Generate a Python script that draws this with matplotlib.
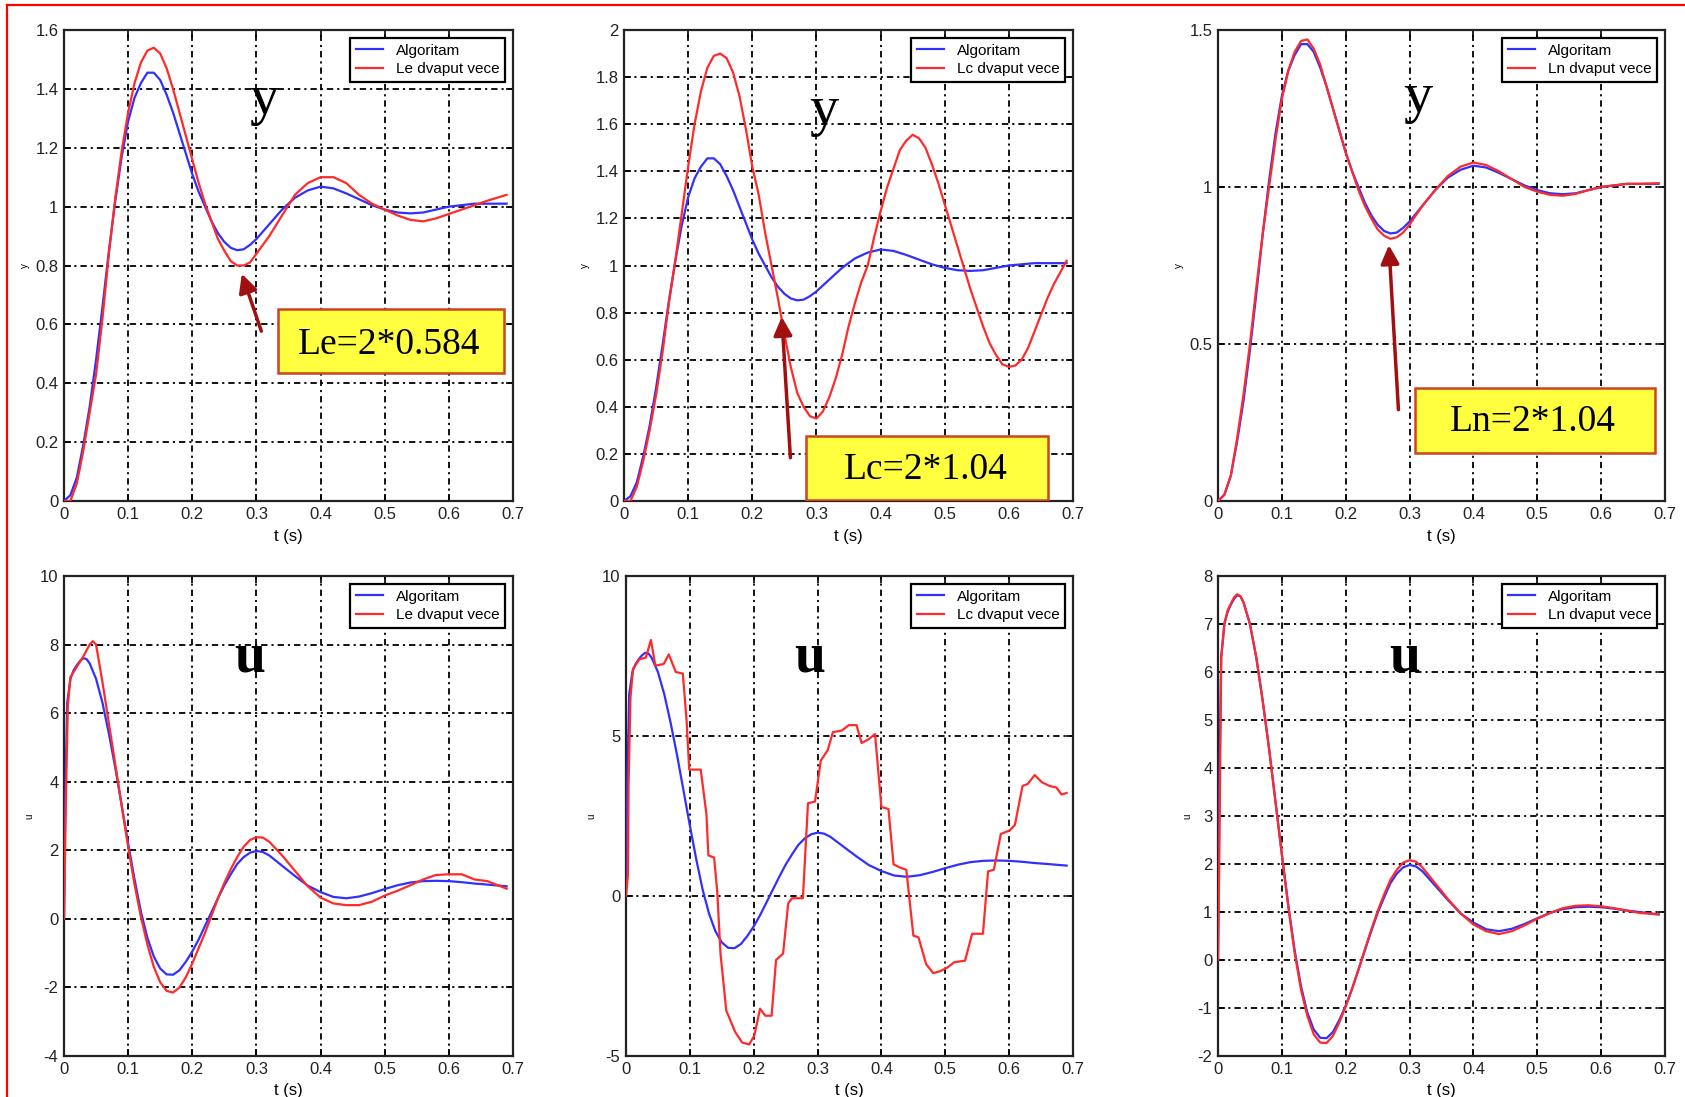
import numpy as np
import matplotlib
matplotlib.use("Agg")
import matplotlib.pyplot as plt
from matplotlib.lines import Line2D
from matplotlib.patches import Rectangle
from matplotlib.ticker import FormatStrFormatter

# --- data ---
# output y of the algorithm (blue), same in the three top panels
t_y = [0, 0.01, 0.02, 0.03, 0.04, 0.05, 0.06, 0.07, 0.08, 0.09, 0.1, 0.11, 0.12, 0.13, 0.14,
       0.15, 0.16, 0.17, 0.18, 0.19, 0.2, 0.21, 0.22, 0.23, 0.24, 0.25, 0.26, 0.27, 0.28, 0.29,
       0.3, 0.32, 0.34, 0.36, 0.38, 0.4, 0.42, 0.44, 0.46, 0.48, 0.5, 0.52, 0.54, 0.56, 0.58,
       0.6, 0.62, 0.64, 0.66, 0.69]
y_alg = [0, 0.02, 0.08, 0.19, 0.32, 0.48, 0.66, 0.85, 1.02, 1.17, 1.29, 1.37, 1.42, 1.455, 1.455,
         1.43, 1.38, 1.32, 1.25, 1.18, 1.11, 1.05, 1.0, 0.95, 0.91, 0.88, 0.86, 0.852, 0.855, 0.87,
         0.89, 0.94, 0.99, 1.03, 1.055, 1.068, 1.062, 1.045, 1.025, 1.005, 0.99, 0.98, 0.977, 0.98, 0.99,
         1.0, 1.005, 1.01, 1.01, 1.01]
y_le = [0, 0.0, 0.06, 0.17, 0.3, 0.43, 0.62, 0.84, 1.03, 1.19, 1.32, 1.42, 1.49, 1.53, 1.54,
        1.52, 1.47, 1.4, 1.32, 1.24, 1.16, 1.08, 1.01, 0.95, 0.89, 0.85, 0.815, 0.8, 0.8, 0.81,
        0.84, 0.9, 0.97, 1.04, 1.08, 1.1, 1.1, 1.08, 1.04, 1.01, 0.99, 0.97, 0.955, 0.95, 0.96,
        0.975, 0.99, 1.005, 1.02, 1.04]
y_ln = [0, 0.02, 0.08, 0.2, 0.34, 0.5, 0.68, 0.85, 1.0, 1.15, 1.28, 1.37, 1.43, 1.465, 1.47,
        1.44, 1.39, 1.32, 1.25, 1.18, 1.11, 1.05, 0.99, 0.94, 0.9, 0.865, 0.845, 0.835, 0.84, 0.855,
        0.88, 0.94, 0.99, 1.035, 1.065, 1.078, 1.07, 1.05, 1.025, 1.0, 0.985, 0.975, 0.972, 0.978, 0.99,
        1.0, 1.005, 1.01, 1.01, 1.012]

t_lc = [0, 0.01, 0.02, 0.03, 0.04, 0.05, 0.06, 0.07, 0.08, 0.09, 0.1, 0.11, 0.12, 0.13, 0.14, 0.15,
        0.16, 0.17, 0.18, 0.19, 0.2, 0.21, 0.22, 0.23, 0.24, 0.25, 0.26, 0.27, 0.28, 0.29, 0.3, 0.31,
        0.32, 0.33, 0.34, 0.35, 0.36, 0.37, 0.38, 0.39, 0.4, 0.41, 0.42, 0.43, 0.44, 0.45, 0.46, 0.47,
        0.48, 0.49, 0.5, 0.51, 0.52, 0.53, 0.54, 0.55, 0.56, 0.57, 0.58, 0.59, 0.6, 0.61, 0.62, 0.63,
        0.64, 0.65, 0.66, 0.67, 0.68, 0.69]
y_lc = [0, 0.0, 0.06, 0.17, 0.3, 0.45, 0.63, 0.84, 1.02, 1.22, 1.42, 1.6, 1.74, 1.84, 1.89, 1.9,
        1.88, 1.82, 1.72, 1.58, 1.42, 1.3, 1.14, 1.0, 0.86, 0.71, 0.57, 0.46, 0.4, 0.36, 0.35, 0.38,
        0.44, 0.52, 0.62, 0.74, 0.84, 0.93, 1.0, 1.12, 1.23, 1.33, 1.41, 1.49, 1.53, 1.555, 1.54, 1.5,
        1.43, 1.35, 1.26, 1.17, 1.08, 0.99, 0.9, 0.82, 0.74, 0.67, 0.62, 0.58, 0.57, 0.575, 0.6, 0.65,
        0.72, 0.79, 0.86, 0.92, 0.97, 1.02]

# control signal u
t_u = [0, 0.002, 0.005, 0.01, 0.015, 0.02, 0.025, 0.03, 0.035, 0.04, 0.05, 0.06, 0.07, 0.08, 0.09,
       0.1, 0.11, 0.12, 0.13, 0.14, 0.15, 0.16, 0.17, 0.18, 0.19, 0.2, 0.21, 0.22, 0.23, 0.24, 0.25,
       0.26, 0.27, 0.28, 0.29, 0.3, 0.31, 0.32, 0.34, 0.36, 0.38, 0.4, 0.42, 0.44, 0.46, 0.48, 0.5,
       0.52, 0.54, 0.56, 0.58, 0.6, 0.62, 0.64, 0.66, 0.69]
u_alg = [0, 3.5, 6.3, 7.0, 7.25, 7.4, 7.52, 7.6, 7.58, 7.45, 7.0, 6.3, 5.4, 4.4, 3.3,
         2.2, 1.15, 0.2, -0.55, -1.1, -1.45, -1.62, -1.63, -1.5, -1.25, -0.95, -0.6, -0.2, 0.2, 0.6, 0.98,
         1.3, 1.6, 1.8, 1.93, 1.98, 1.95, 1.85, 1.55, 1.25, 0.97, 0.78, 0.64, 0.6, 0.65, 0.75, 0.87,
         0.98, 1.06, 1.1, 1.11, 1.1, 1.07, 1.03, 1.0, 0.95]
u_ln = [0, 2.0, 6.3, 7.0, 7.28, 7.42, 7.55, 7.62, 7.58, 7.45, 7.0, 6.3, 5.4, 4.4, 3.3,
        2.2, 1.12, 0.15, -0.62, -1.17, -1.55, -1.72, -1.73, -1.58, -1.3, -0.97, -0.6, -0.2, 0.22, 0.63, 1.02,
        1.36, 1.67, 1.88, 2.03, 2.08, 2.05, 1.93, 1.6, 1.27, 0.97, 0.74, 0.6, 0.54, 0.6, 0.72, 0.86,
        0.98, 1.08, 1.13, 1.14, 1.12, 1.08, 1.03, 0.98, 0.95]

t_ule = [0, 0.003, 0.006, 0.01, 0.02, 0.03, 0.04, 0.045, 0.05, 0.06, 0.07, 0.08, 0.09, 0.1, 0.11,
         0.12, 0.13, 0.14, 0.15, 0.16, 0.17, 0.18, 0.19, 0.2, 0.21, 0.22, 0.23, 0.24, 0.25, 0.26,
         0.27, 0.28, 0.29, 0.3, 0.31, 0.32, 0.34, 0.36, 0.38, 0.4, 0.42, 0.44, 0.46, 0.48, 0.5,
         0.52, 0.54, 0.56, 0.58, 0.6, 0.62, 0.64, 0.66, 0.69]
u_le = [0, 3.5, 6.2, 7.05, 7.35, 7.65, 8.0, 8.1, 8.0, 6.9, 5.7, 4.5, 3.3, 2.1, 1.0,
        0.05, -0.75, -1.4, -1.85, -2.1, -2.15, -2.0, -1.7, -1.3, -0.85, -0.4, 0.1, 0.6, 1.05, 1.45,
        1.8, 2.1, 2.3, 2.38, 2.37, 2.25, 1.85, 1.4, 0.95, 0.62, 0.45, 0.4, 0.4, 0.5, 0.68,
        0.82, 0.98, 1.15, 1.28, 1.3, 1.3, 1.15, 1.1, 0.88]

t_ulc = [0, 0.003, 0.004, 0.007, 0.011, 0.021, 0.031, 0.039, 0.046, 0.059, 0.067, 0.078, 0.089,
         0.095, 0.099, 0.117, 0.126, 0.129, 0.138, 0.143, 0.148, 0.157, 0.171, 0.182, 0.193, 0.201,
         0.21, 0.218, 0.228, 0.235, 0.246, 0.254, 0.26, 0.277, 0.285, 0.296, 0.305, 0.316, 0.324,
         0.338, 0.349, 0.361, 0.369, 0.38, 0.39, 0.4, 0.411, 0.419, 0.43, 0.439, 0.45, 0.458, 0.47,
         0.481, 0.492, 0.503, 0.514, 0.531, 0.542, 0.559, 0.567, 0.576, 0.587, 0.601, 0.609, 0.621,
         0.629, 0.64, 0.651, 0.663, 0.674, 0.682, 0.69]
u_lc = [0, 0.65, 3.45, 6.2, 7.1, 7.4, 7.45, 8.0, 7.2, 7.25, 7.55, 7.0, 6.95,
        5.45, 3.95, 3.95, 2.55, 1.27, 1.2, 0.1, -1.8, -3.58, -4.25, -4.58, -4.64, -4.36,
        -3.52, -3.74, -3.74, -2.0, -1.8, -0.23, -0.07, -0.07, 2.9, 2.95, 4.23, 4.56, 5.12,
        5.17, 5.34, 5.34, 4.78, 4.9, 5.06, 2.78, 2.72, 0.99, 0.88, 0.82, -1.24, -1.29, -2.13,
        -2.41, -2.35, -2.24, -2.07, -2.02, -1.18, -1.18, 0.77, 0.82, 1.94, 2.05, 2.22, 3.44,
        3.5, 3.78, 3.56, 3.44, 3.39, 3.17, 3.22]

red_labels = ["Le dvaput vece", "Lc dvaput vece", "Ln dvaput vece"]
box_texts = ["Le=2*0.584", "Lc=2*1.04", "Ln=2*1.04"]

plt.rcParams['font.family'] = 'Liberation Sans'

fig = plt.figure(figsize=(16.85, 10.97), dpi=100)

W, H = 1685, 1097
top_rect = [(64, 513), (624, 1073), (1218, 1665)]
bot_rect = [(64, 513), (626, 1073), (1218, 1665)]

def make_ax(xr, yr):
    return fig.add_axes([xr[0] / W, 1 - yr[1] / H, (xr[1] - xr[0]) / W, (yr[1] - yr[0]) / H])

def style(ax, ylim, yticks, ylab):
    ax.set_xlim(0, 0.7)
    ax.set_ylim(*ylim)
    ax.set_xticks(np.arange(0, 0.71, 0.1))
    ax.set_yticks(yticks)
    ax.xaxis.set_major_formatter(FormatStrFormatter('%g'))
    ax.yaxis.set_major_formatter(FormatStrFormatter('%g'))
    ax.tick_params(direction='in', top=True, right=True, length=5, width=1.2,
                   labelsize=12, pad=4, labelcolor='#222222')
    ax.grid(True, color='black', linestyle=(0, (3.5, 2.2, 1.2, 2.2)), linewidth=1.3)
    for s in ax.spines.values():
        s.set_linewidth(1.6)
        s.set_color('#222222')
    ax.set_xlabel('t (s)', fontsize=12, labelpad=5)
    ax.set_ylabel(ylab, fontsize=7, labelpad=4)

def add_legend(ax, red_label):
    ax.legend(loc='upper right', fontsize=11, frameon=True, fancybox=False,
              edgecolor='black', framealpha=1, handlelength=1.8, borderpad=0.4,
              labelspacing=0.3, handletextpad=0.8).get_frame().set_linewidth(1.6)

blue = '#3030ff'
red = '#ff2a2a'

# ---- top row: y ----
y_reds = [(t_y, y_le), (t_lc, y_lc), (t_y, y_ln)]
y_lims = [(0, 1.6), (0, 2), (0, 1.5)]
y_ticks = [np.arange(0, 1.61, 0.2), np.arange(0, 2.01, 0.2), [0, 0.5, 1, 1.5]]
ylet_pos = [(0.4455, 0.852), (0.446, 0.829), (0.448, 0.856)]
box_rects = [(0.477, 0.272, 0.502, 0.136), (0.406, 0.002, 0.538, 0.135), (0.44, 0.101, 0.538, 0.138)]
box_txt_pos = [(0.724, 0.332), (0.673, 0.066), (0.705, 0.168)]
arrows = [((0.394, 0.488), (0.4415, 0.355)), ((0.351, 0.397), (0.371, 0.086)),
          ((0.382, 0.549), (0.404, 0.188))]

for i in range(3):
    ax = make_ax(top_rect[i], (30, 501))
    ax.plot(t_y, y_alg, color=blue, lw=1.6, label='Algoritam', zorder=3)
    ax.plot(y_reds[i][0], y_reds[i][1], color=red, lw=1.6, label=red_labels[i], zorder=3)
    style(ax, y_lims[i], y_ticks[i], 'y')
    add_legend(ax, red_labels[i])
    ax.text(*ylet_pos[i], 'y', transform=ax.transAxes, ha='center', va='center',
            fontsize=42, family='Liberation Serif', zorder=5)
    bx, by, bw, bh = box_rects[i]
    ax.add_patch(Rectangle((bx, by), bw, bh, transform=ax.transAxes, facecolor='#ffff40',
                           edgecolor='#cc4422', lw=1.8, zorder=6))
    ax.text(*box_txt_pos[i], box_texts[i], transform=ax.transAxes, ha='center', va='center',
            fontsize=27, family='Liberation Serif', zorder=7)
    head, tail = arrows[i]
    ax.annotate('', xy=head, xytext=tail, xycoords='axes fraction', textcoords='axes fraction',
                arrowprops=dict(arrowstyle='-|>', color='#a01010', lw=2.5, mutation_scale=28),
                zorder=6)

# ---- bottom row: u ----
u_reds = [(t_ule, u_le), (t_ulc, u_lc), (t_u, u_ln)]
u_lims = [(-4, 10), (-5, 10), (-2, 8)]
u_ticks = [np.arange(-4, 10.1, 2), [-5, 0, 5, 10], np.arange(-2, 8.1, 1)]
ulet_pos = [(0.414, 0.83), (0.411, 0.83), (0.418, 0.83)]

for i in range(3):
    ax = make_ax(bot_rect[i], (576, 1056))
    ax.plot(t_u, u_alg, color=blue, lw=1.6, label='Algoritam', zorder=3)
    ax.plot(u_reds[i][0], u_reds[i][1], color=red, lw=1.6, label=red_labels[i], zorder=3)
    style(ax, u_lims[i], u_ticks[i], 'u')
    add_legend(ax, red_labels[i])
    ax.text(*ulet_pos[i], 'u', transform=ax.transAxes, ha='center', va='center',
            fontsize=40, family='Liberation Serif', fontweight='bold', zorder=5)

# red frame on top and left
fig.add_artist(Line2D([7 / W, 1], [1 - 5 / H, 1 - 5 / H], color='red', lw=1.6))
fig.add_artist(Line2D([7 / W, 7 / W], [0, 1 - 5 / H], color='red', lw=1.6))

plt.savefig('out.png', dpi=100)
